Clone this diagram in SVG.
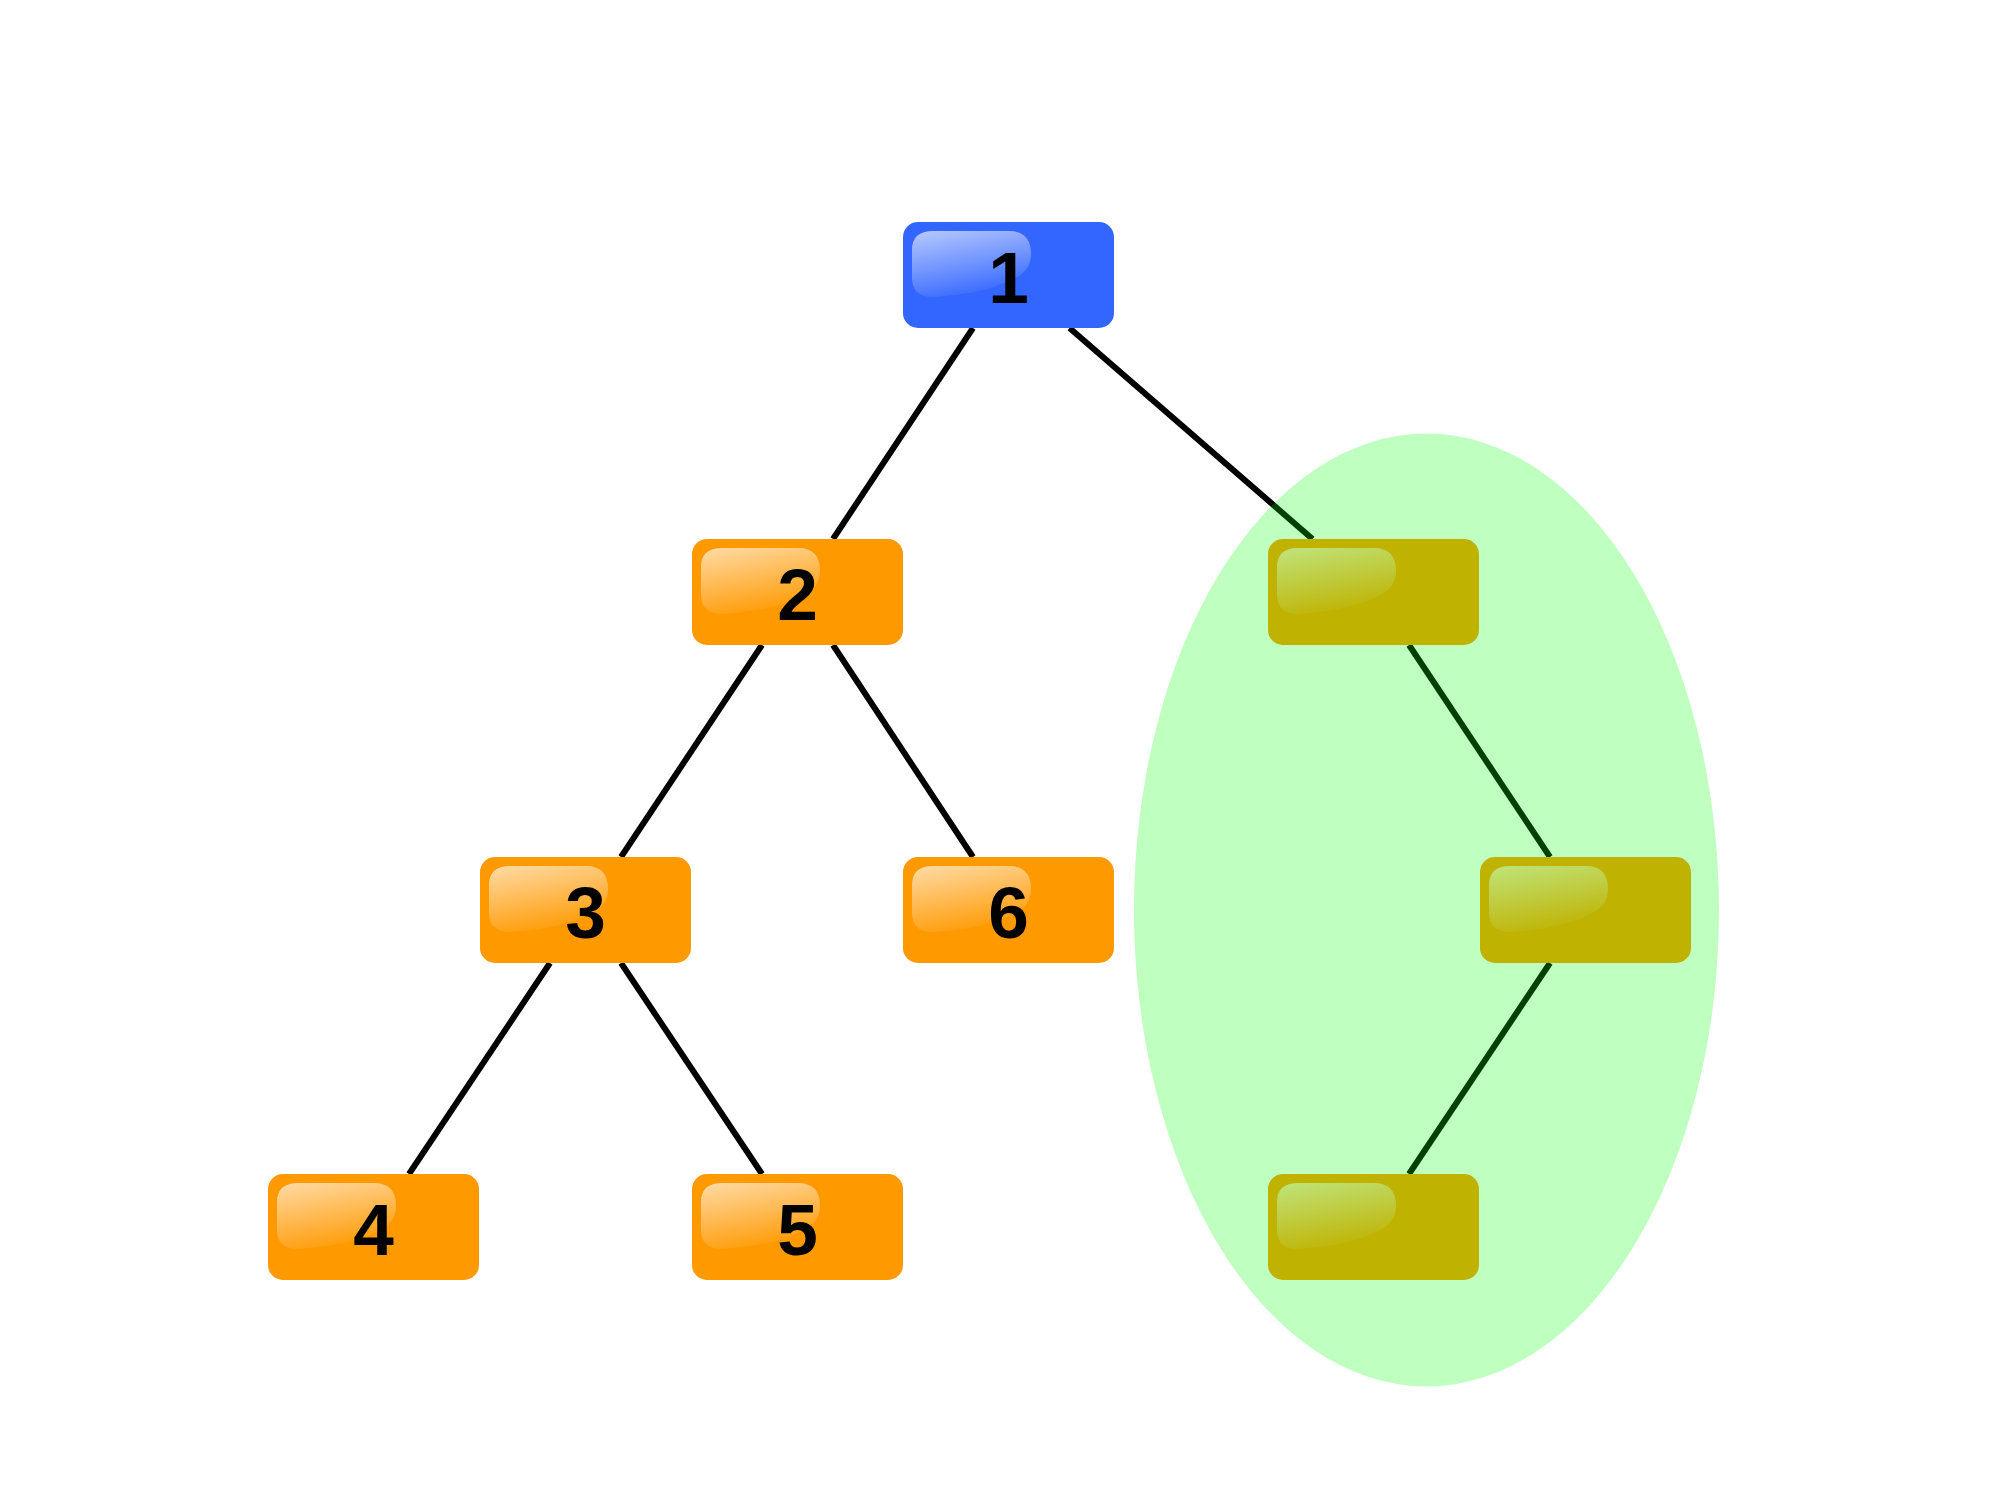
<svg xmlns="http://www.w3.org/2000/svg" width="2000" height="1492" viewBox="0 0 2000 1492">
<style>
.edge{stroke:#000;stroke-width:6;fill:none}
.box{stroke:none}
.orange{fill:#FF9900}
.blue{fill:#3366FF}
.gloss{fill:url(#gloss)}
.lbl{font-family:"Liberation Sans",Arial,sans-serif;font-weight:bold;font-size:73px;text-anchor:middle;fill:#000}
</style>
<defs>
<linearGradient id="gloss" x1="0" y1="0" x2="0.35" y2="1">
<stop offset="0" stop-color="#fff" stop-opacity="0.65"/>
<stop offset="1" stop-color="#fff" stop-opacity="0.05"/>
</linearGradient>
<path id="hl" d="M9,28 Q9,9 30,9 L106,9 Q128,9 128,32 Q128,50 108,58 Q80,72 30,75 Q9,75 9,56 Z"/>
</defs>
<rect width="2000" height="1492" fill="#fff"/>
<g id="connectors">
<line class="edge" x1="973" y1="328" x2="833" y2="539"/>
<line class="edge" x1="1069.5" y1="328" x2="1312.5" y2="539"/>
<line class="edge" x1="762" y1="645" x2="621" y2="857"/>
<line class="edge" x1="833" y1="645" x2="973" y2="857"/>
<line class="edge" x1="550" y1="963" x2="409" y2="1174"/>
<line class="edge" x1="621" y1="963" x2="762" y2="1174"/>
<line class="edge" x1="1409" y1="645" x2="1550" y2="857"/>
<line class="edge" x1="1550" y1="963" x2="1409" y2="1174"/>
</g>
<g id="node1" transform="translate(903,222)">
<rect class="box blue" width="211" height="106" rx="15"/>
<use href="#hl" class="gloss"/>
<text class="lbl" x="105.5" y="81">1</text>
</g>
<g id="node2" transform="translate(692,539)">
<rect class="box orange" width="211" height="106" rx="15"/>
<use href="#hl" class="gloss"/>
<text class="lbl" x="105.5" y="81">2</text>
</g>
<g id="node3" transform="translate(480,857)">
<rect class="box orange" width="211" height="106" rx="15"/>
<use href="#hl" class="gloss"/>
<text class="lbl" x="105.5" y="81">3</text>
</g>
<g id="node4" transform="translate(268,1174)">
<rect class="box orange" width="211" height="106" rx="15"/>
<use href="#hl" class="gloss"/>
<text class="lbl" x="105.5" y="81">4</text>
</g>
<g id="node5" transform="translate(692,1174)">
<rect class="box orange" width="211" height="106" rx="15"/>
<use href="#hl" class="gloss"/>
<text class="lbl" x="105.5" y="81">5</text>
</g>
<g id="node6" transform="translate(903,857)">
<rect class="box orange" width="211" height="106" rx="15"/>
<use href="#hl" class="gloss"/>
<text class="lbl" x="105.5" y="81">6</text>
</g>
<g id="nodeA" transform="translate(1268,539)">
<rect class="box orange" width="211" height="106" rx="15"/>
<use href="#hl" class="gloss"/>
</g>
<g id="nodeB" transform="translate(1480,857)">
<rect class="box orange" width="211" height="106" rx="15"/>
<use href="#hl" class="gloss"/>
</g>
<g id="nodeC" transform="translate(1268,1174)">
<rect class="box orange" width="211" height="106" rx="15"/>
<use href="#hl" class="gloss"/>
</g>
<g id="highlight">
<ellipse cx="1426.5" cy="910" rx="292.5" ry="476.5" fill="#00FF00" fill-opacity="0.25"/>
</g>
</svg>
